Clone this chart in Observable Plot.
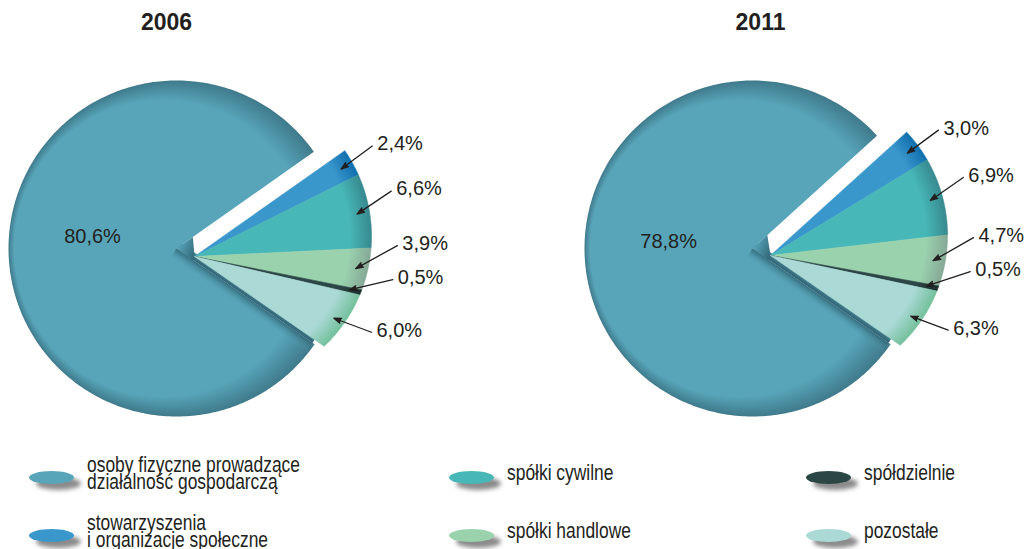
<!DOCTYPE html>
<html lang="pl"><head><meta charset="utf-8">
<script src="https://cdn.jsdelivr.net/npm/d3@7"></script>
<script src="https://cdn.jsdelivr.net/npm/@observablehq/plot@0.6"></script>
<style>
html,body{margin:0;padding:0;background:#fff;}
#wrap{position:relative;width:1025px;height:549px;overflow:hidden;font-family:"Liberation Sans",Arial,sans-serif;color:#231f20;}
#chart svg{display:block;}
.sw{position:absolute;width:45px;height:13px;border-radius:50%;box-shadow:7px 6px 4px rgba(90,90,90,0.7);}
.lt{position:absolute;font-size:21.5px;line-height:17.5px;white-space:nowrap;transform:scaleX(0.81);transform-origin:0 0;}
</style></head>
<body><div id="wrap"><div id="chart"></div></div>
<script>
// ---------- data ----------
const categories = [
  "osoby fizyczne prowadzące działalność gospodarczą",
  "stowarzyszenia i organizacje społeczne",
  "spółki cywilne",
  "spółki handlowe",
  "spółdzielnie",
  "pozostałe"
];
const legendLines = [
  ["osoby fizyczne prowadzące", "działalność gospodarczą"],
  ["stowarzyszenia", "i organizacje społeczne"],
  ["spółki cywilne"],
  ["spółki handlowe"],
  ["spółdzielnie"],
  ["pozostałe"]
];
const years = ["2006", "2011"];
const values2006 = [80.6, 2.4, 6.6, 3.9, 0.5, 6.0];
const values2011 = [78.8, 3.0, 6.9, 4.7, 0.5, 6.3];
const faceColors = ["#58a5ba", "#3a97cb", "#47b7b7", "#9ad2ae", "#2a4645", "#aad9d6"];
const rimColors  = ["#3f7a8b", "#0f6fae", "#37898f", "#86a996", "#1b2e2d", "#74c09c"];

// ---------- layout ----------
const W = 1025, H = 445;
const pies = [
  {year: years[0], values: values2006, titleX: 166, big: {x: 176, y: 248, r: 168}, apex: {x: 194, y: 256}},
  {year: years[1], values: values2011, titleX: 760, big: {x: 752, y: 248, r: 168}, apex: {x: 770, y: 255}}
];
const titleY = 22;
const rimOffset = {x: 26, y: -20}, rimR = 151;
const rad = Math.PI / 180;
const TAU = 2 * Math.PI;
const endOfSmall = 124.7 * rad;
const fmt = v => v.toFixed(1).replace(".", ",") + "%";
const dir = a => [Math.sin(a), -Math.cos(a)];
function rimDist(apex, C, R, a) {
  const [dx, dy] = dir(a);
  const wx = apex.x - C.x, wy = apex.y - C.y;
  const b = wx * dx + wy * dy, c = wx * wx + wy * wy - R * R;
  return -b + Math.sqrt(b * b - c);
}

const gradients = [];
const marks = [];
const labelData = [], arrowData = [], bigLabelData = [], titleData = [];

pies.forEach((p, pi) => {
  const arcs = d3.pie().sort(null).value(d => d)
    .startAngle(endOfSmall).endAngle(endOfSmall + TAU)(p.values);
  const C = {x: p.apex.x + rimOffset.x, y: p.apex.y + rimOffset.y};
  const A = p.big;
  // big slice
  const b = arcs[0];
  const bigPts = [{x: A.x, y: A.y}];
  const nb = Math.ceil((b.endAngle - b.startAngle) / rad);
  for (let k = 0; k <= nb; k++) {
    const a = b.startAngle + (b.endAngle - b.startAngle) * k / nb;
    const [dx, dy] = dir(a);
    bigPts.push({x: A.x + A.r * dx, y: A.y + A.r * dy});
  }
  bigPts.push({x: A.x, y: A.y});
  const a0 = b.startAngle, a1 = b.endAngle;
  const [d0x, d0y] = dir(a0);
  const [d1x, d1y] = dir(a1);
  const n0 = [Math.cos(a0), Math.sin(a0)];
  const L = A.r * 0.985;
  // outer wall (side face seen below the lower cut edge)
  const wO = 7;
  const outerPts = [
    {x: A.x, y: A.y},
    {x: A.x + L * d0x, y: A.y + L * d0y},
    {x: A.x + L * d0x - wO * n0[0], y: A.y + L * d0y - wO * n0[1]},
    {x: A.x - wO * n0[0], y: A.y - wO * n0[1]}
  ];
  const go = `o${pi}`;
  gradients.push({kind: "linear", id: go, x1: A.x, y1: A.y, x2: A.x - wO * n0[0], y2: A.y - wO * n0[1],
    stops: [[0, "#2f6272", 1], [1, "#4d8c9d", 1]]});
  marks.push(Plot.line(outerPts, {x: "x", y: "y", fill: `url(#${go})`, stroke: "none"}));

  const gb = `g${pi}_0`;
  gradients.push({kind: "radial", id: gb, cx: A.x, cy: A.y, r: A.r, fx: A.x - 120, fy: A.y,
    stops: [[0, faceColors[0], 1], [0.88, faceColors[0], 1], [1, rimColors[0], 1]]});
  marks.push(Plot.line(bigPts, {x: "x", y: "y", fill: `url(#${gb})`, stroke: "none"}));
  // wall shading along lower cut edge (inside)
  const wS = 12;
  const wallPts = [
    {x: A.x, y: A.y},
    {x: A.x + L * d0x, y: A.y + L * d0y},
    {x: A.x + L * d0x + wS * n0[0], y: A.y + L * d0y + wS * n0[1]},
    {x: A.x + wS * n0[0], y: A.y + wS * n0[1]}
  ];
  const gw = `w${pi}`;
  gradients.push({kind: "linear", id: gw, x1: A.x, y1: A.y, x2: A.x + wS * n0[0], y2: A.y + wS * n0[1],
    stops: [[0, "#2f6272", 0.85], [1, faceColors[0], 0]]});
  marks.push(Plot.line(wallPts, {x: "x", y: "y", fill: `url(#${gw})`, stroke: "none"}));
  // notch shadow near apex
  const notchPts = [
    {x: A.x, y: A.y},
    {x: A.x + 20 * d1x, y: A.y + 20 * d1y},
    {x: p.apex.x, y: p.apex.y},
    {x: A.x + 20 * d0x, y: A.y + 20 * d0y}
  ];
  const gn = `n${pi}`;
  gradients.push({kind: "linear", id: gn, x1: A.x, y1: A.y, x2: p.apex.x, y2: p.apex.y,
    stops: [[0, faceColors[0], 1], [1, "#33687a", 1]]});
  marks.push(Plot.line(notchPts, {x: "x", y: "y", fill: `url(#${gn})`, stroke: "none"}));
  // big label
  const bm = (b.startAngle + b.endAngle) / 2;
  bigLabelData.push({x: A.x + A.r * 0.5 * dir(bm)[0], y: A.y + A.r * 0.5 * dir(bm)[1], text: fmt(p.values[0])});
  titleData.push({x: p.titleX, y: titleY, text: p.year});
  // small slices
  const items = [];
  for (let i = 1; i < arcs.length; i++) {
    const s = arcs[i];
    const pts = [{x: p.apex.x, y: p.apex.y}];
    const ns = Math.max(3, Math.ceil((s.endAngle - s.startAngle) / rad * 2));
    for (let k = 0; k <= ns; k++) {
      const a = s.startAngle + (s.endAngle - s.startAngle) * k / ns;
      const t = rimDist(p.apex, C, rimR, a);
      const [dx, dy] = dir(a);
      pts.push({x: p.apex.x + t * dx, y: p.apex.y + t * dy});
    }
    pts.push({x: p.apex.x, y: p.apex.y});
    const gs = `g${pi}_${i}`;
    gradients.push({kind: "radial", id: gs, cx: C.x, cy: C.y, r: rimR, fx: C.x - 30, fy: C.y,
      stops: [[0, faceColors[i], 1], [0.88, faceColors[i], 1], [1, rimColors[i], 1]]});
    marks.push(Plot.line(pts, {x: "x", y: "y", fill: `url(#${gs})`, stroke: `url(#${gs})`, strokeWidth: 0.6}));
    const mid = ((s.startAngle + s.endAngle) / 2) % TAU;
    const tm = rimDist(p.apex, C, rimR, mid) * 0.93;
    const [mx, my] = dir(mid);
    const tip = {x: p.apex.x + tm * mx, y: p.apex.y + tm * my};
    items.push({mid, tip, text: fmt(p.values[i]), ly: tip.y + (mid < 105 * rad ? -25 : 12)});
  }
  for (let k = 1; k < items.length; k++) items[k].ly = Math.max(items[k].ly, items[k - 1].ly + 34);
  items.forEach(it => {
    const dyc = it.ly - C.y;
    const lx = C.x + Math.sqrt((rimR + 31) ** 2 - dyc * dyc);
    labelData.push({x: lx, y: it.ly, text: it.text});
    arrowData.push({x1: lx - 5, y1: it.ly + 2, x2: it.tip.x, y2: it.tip.y});
  });
});

marks.push(Plot.arrow(arrowData, {x1: "x1", y1: "y1", x2: "x2", y2: "y2",
  stroke: "#231f20", fill: "#231f20", strokeWidth: 1.3, headLength: 9, headAngle: 38}));
marks.push(Plot.text(labelData, {x: "x", y: "y", text: "text", textAnchor: "start",
  fontSize: 20, fill: "#231f20", ariaLabel: "pct-label"}));
marks.push(Plot.text(bigLabelData, {x: "x", y: "y", text: "text", textAnchor: "middle", dy: -12,
  fontSize: 20, fill: "#231f20", ariaLabel: "pct-label"}));
marks.push(Plot.text(titleData, {x: "x", y: "y", text: "text", fontSize: 23, fontWeight: "bold",
  fill: "#231f20", ariaLabel: "year-title"}));

const svg = Plot.plot({
  width: W, height: H, margin: 0,
  x: {domain: [0, W], range: [0, W], axis: null},
  y: {domain: [0, H], range: [0, H], axis: null},
  style: {fontFamily: '"Liberation Sans", Arial, sans-serif', background: "#fff", color: "#231f20"},
  marks
});

// gradient defs
const defs = d3.select(svg).insert("defs", ":first-child");
gradients.forEach(g => {
  let el;
  if (g.kind === "radial") {
    el = defs.append("radialGradient").attr("id", g.id).attr("gradientUnits", "userSpaceOnUse")
      .attr("cx", g.cx).attr("cy", g.cy).attr("r", g.r);
    if (g.fx !== undefined) el.attr("fx", g.fx).attr("fy", g.fy);
  } else {
    el = defs.append("linearGradient").attr("id", g.id).attr("gradientUnits", "userSpaceOnUse")
      .attr("x1", g.x1).attr("y1", g.y1).attr("x2", g.x2).attr("y2", g.y2);
  }
  g.stops.forEach(([o, c, op]) => el.append("stop").attr("offset", o).attr("stop-color", c).attr("stop-opacity", op));
});

document.getElementById("chart").appendChild(svg);

// narrow (condensed) label text
svg.querySelectorAll('g[aria-label="pct-label"] text').forEach(t => {
  const w = t.getComputedTextLength();
  t.setAttribute("textLength", (w * 0.82).toFixed(2));
  t.setAttribute("lengthAdjust", "spacingAndGlyphs");
});

// legend (HTML, below the SVG)
const legendCols = [51, 471, 828], legendRows = [477, 535];
const wrap = document.getElementById("wrap");
categories.forEach((c, i) => {
  const cx = legendCols[Math.floor(i / 2)], cy = legendRows[i % 2];
  const sw = document.createElement("div");
  sw.className = "sw";
  sw.style.left = (cx - 22.5) + "px";
  sw.style.top = (cy - 6.5) + "px";
  sw.style.background = faceColors[i];
  sw.title = c;
  wrap.appendChild(sw);
  const lines = legendLines[i];
  const tx = document.createElement("div");
  tx.className = "lt";
  tx.style.left = (cx + 36) + "px";
  tx.style.top = (cy - lines.length * 17.5 / 2 - 3) + "px";
  tx.innerHTML = lines.join("<br>");
  wrap.appendChild(tx);
});
</script>
</body></html>
